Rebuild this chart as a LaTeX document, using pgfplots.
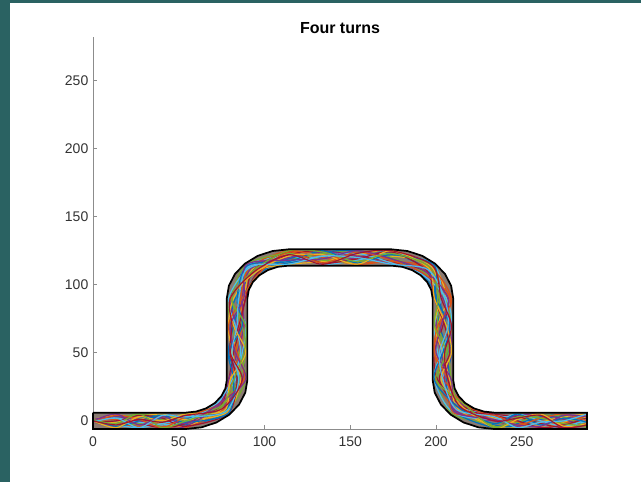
\documentclass[border=0pt]{standalone}
\usepackage{fontspec}
\setmainfont{Liberation Sans}
\usepackage{pgfplots}
\pgfplotsset{compat=1.18}

\definecolor{bgteal}{HTML}{2A6262}
\definecolor{axgray}{HTML}{8C8C8C}
\definecolor{lblgray}{HTML}{333333}
\definecolor{c1}{HTML}{0072BD}
\definecolor{c2}{HTML}{D95319}
\definecolor{c3}{HTML}{EDB120}
\definecolor{c4}{HTML}{7E2F8E}
\definecolor{c5}{HTML}{77AC30}
\definecolor{c6}{HTML}{4DBEEE}
\definecolor{c7}{HTML}{A2142F}
\definecolor{roadmix}{HTML}{8A7A72}

\begin{document}
\begin{tikzpicture}
\fill[bgteal] (0,0) rectangle (480.75pt,361.5pt);
\fill[white] (7.5pt,0) rectangle (480.75pt,359.25pt);
\useasboundingbox (0,0) rectangle (480.75pt,361.5pt);
\begin{axis}[at={(69.75pt,39.75pt)},anchor=south west,
  scale only axis,width=370.5pt,height=294pt,
  xmin=0,xmax=288,ymin=-6,ymax=282,
  axis x line*=bottom,axis y line*=left,
  axis line style={-,axgray,line width=0.6pt},
  xtick={0,50,...,250},ytick={0,50,...,250},
  tick align=inside,major tick length=3pt,
  tick style={axgray,line width=0.6pt},
  /pgf/number format/assume math mode=true,
  tick label style={font=\fontsize{10.5}{12}\selectfont,text=lblgray},
  xticklabel style={yshift=-2.5pt},
  title={Four turns},
  title style={font=\bfseries\fontsize{12}{14}\selectfont,yshift=-7pt},
  clip=false]

% road surface
\addplot[draw=none,fill=roadmix] coordinates {
 (0,6)(54,6)(60.21,6.82)(66,9.22)(70.97,13.03)(74.78,18)(77.18,23.79)(78,30)
 (78,90)(79.23,99.32)(82.82,108)(88.54,115.46)(96,121.18)(104.68,124.77)(114,126)
 (174,126)(183.32,124.77)(192,121.18)(199.46,115.46)(205.18,108)(208.77,99.32)(210,90)
 (210,30)(210.82,23.79)(213.22,18)(217.03,13.03)(222,9.22)(227.79,6.82)(234,6)(288,6)
 (288,-6)(234,-6)(224.68,-4.77)(216,-1.18)(208.54,4.54)(202.82,12)(199.23,20.68)(198,30)
 (198,90)(197.18,96.21)(194.78,102)(190.97,106.97)(186,110.78)(180.21,113.18)(174,114)
 (114,114)(107.79,113.18)(102,110.78)(97.03,106.97)(93.22,102)(90.82,96.21)(90,90)
 (90,30)(88.77,20.68)(85.18,12)(79.46,4.54)(72,-1.18)(63.32,-4.77)(54,-6)(0,-6)(0,6)};

% trajectories
\pgfplotsset{traj/.style={line width=0.9pt,smooth}}
\addplot[traj,c1] coordinates {(0,0)(13.5,3)(27,4)(40.5,1)(54,-3)(78.0,6.0)(86,30)(82,50)(80,70)(83,90)(94.9,109.1)(114,116)(134,120)(154,124)(174,123)(195.2,111.2)(200,90)(202,70)(207,50)(208,30)(212.8,8.8)(234,-3)(247.5,-4)(261,1)(274.5,4)(288,2)};
\addplot[traj,c2] coordinates {(0,0)(13.5,-2)(27,-4)(40.5,-3)(54,1)(72.4,11.6)(81,30)(85,50)(88,70)(86,90)(91.4,112.6)(114,124)(134,122)(154,117)(174,116)(195.9,111.9)(208,90)(207,70)(202,50)(200,30)(212.1,8.1)(234,3)(247.5,4)(261,0)(274.5,-4)(288,-3)};
\addplot[traj,c3] coordinates {(0,1)(13.5,4)(27,2)(40.5,-2)(54,-4)(75.2,8.8)(80,30)(81,50)(85,70)(88,90)(92.8,111.2)(114,123)(134,118)(154,116)(174,121)(198.0,114.0)(206,90)(201,70)(200,50)(204,30)(215.6,11.6)(234,2)(247.5,-2)(261,-4)(274.5,-1)(288,3)};
\addplot[traj,c4] coordinates {(0,-1)(13.5,-4)(27,-1)(40.5,3)(54,4)(74.5,9.5)(87,30)(88,50)(84,70)(80,90)(90.7,113.3)(114,119)(134,116)(154,120)(174,124)(197.3,113.3)(203,90)(200,70)(203,50)(207,30)(215.6,11.6)(234,0)(247.5,-4)(261,-2)(274.5,2)(288,4)};
\addplot[traj,c5] coordinates {(0,0)(13.5,2)(27,5)(40.5,3)(54,0)(77.3,6.7)(89,30)(85,50)(81,70)(79,90)(92.1,111.9)(114,118)(134,123)(154,125)(174,120)(193.1,109.1)(205,90)(209,70)(206,50)(201,30)(209.3,5.3)(234,-2)(247.5,2)(261,5)(274.5,1)(288,-3)};
\addplot[traj,c6] coordinates {(0,0)(13.5,-3)(27,-5)(40.5,-2)(54,2)(71.7,12.3)(83,30)(87,50)(89,70)(84,90)(90.0,114.0)(114,121)(134,115)(154,118)(174,123)(198.7,114.7)(203,90)(199,70)(201,50)(205,30)(214.2,10.2)(234,5)(247.5,1)(261,-3)(274.5,-5)(288,0)};
\addplot[traj,c7] coordinates {(0,1)(13.5,1)(27,-2)(40.5,-5)(54,-2)(73.8,10.2)(79,30)(82,50)(86,70)(89,90)(95.6,108.4)(114,122)(134,125)(154,121)(174,117)(193.8,109.8)(207,90)(204,70)(199,50)(201,30)(214.9,10.9)(234,5)(247.5,3)(261,-2)(274.5,-5)(288,-2)};
\addplot[traj,c1] coordinates {(0,-1)(13.5,-1)(27,2)(40.5,5)(54,2)(76.6,7.4)(84,30)(79,50)(82,70)(87,90)(96.3,107.7)(114,119)(134,124)(154,125)(174,119)(191.7,107.7)(201,90)(206,70)(209,50)(206,30)(210.7,6.7)(234,-5)(247.5,-2)(261,3)(274.5,5)(288,1)};
\addplot[traj,c2] coordinates {(0,0)(13.5,1)(27,0)(40.5,-4)(54,-5)(75.9,8.1)(81,30)(83,50)(87,70)(86,90)(91.4,112.6)(114,125)(134,120)(154,115)(174,117)(196.6,112.6)(209,90)(202,70)(199,50)(205,30)(216.3,12.3)(234,3)(247.5,-1)(261,-5)(274.5,-2)(288,4)};
\addplot[traj,c3] coordinates {(0,0)(13.5,-1)(27,3)(40.5,5)(54,1)(78.0,6.0)(86,30)(81,50)(79,70)(82,90)(94.2,109.8)(114,115)(134,117)(154,122)(174,125)(197.3,113.3)(202,90)(199,70)(204,50)(208,30)(212.8,8.8)(234,-4)(247.5,-5)(261,-1)(274.5,3)(288,5)};
\addplot[traj,c4] coordinates {(0,1)(13.5,3)(27,0)(40.5,-5)(54,-4)(73.1,10.9)(79,30)(84,50)(88,70)(87,90)(92.1,111.9)(114,120)(134,124)(154,121)(174,115)(192.4,108.4)(204,90)(208,70)(209,50)(205,30)(211.4,7.4)(234,0)(247.5,4)(261,5)(274.5,1)(288,-4)};
\addplot[traj,c5] coordinates {(0,-1)(13.5,-3)(27,-2)(40.5,1)(54,5)(73.8,10.2)(85,30)(89,50)(87,70)(81,90)(89.3,114.7)(114,123)(134,118)(154,117)(174,122)(198.0,114.0)(202,90)(201,70)(207,50)(209,30)(214.2,10.2)(234,-4)(247.5,-1)(261,4)(274.5,3)(288,-5)};
\addplot[traj,c6] coordinates {(0,0)(13.5,2)(27,-1)(40.5,-3)(54,0)(71.7,12.3)(81,30)(86,50)(83,70)(79,90)(91.4,112.6)(114,117)(134,121)(154,123)(174,116)(191.7,107.7)(206,90)(209,70)(203,50)(199,30)(210.0,6.0)(234,1)(247.5,5)(261,0)(274.5,-4)(288,1)};
\addplot[traj,c7] coordinates {(0,-1)(13.5,0)(27,4)(40.5,2)(54,-4)(78.7,5.3)(84,30)(80,50)(85,70)(89,90)(93.5,110.5)(114,124)(134,116)(154,119)(174,124)(194.5,110.5)(199,90)(205,70)(208,50)(202,30)(213.5,9.5)(234,4)(247.5,0)(261,-5)(274.5,-3)(288,2)};
\addplot[traj,c1] coordinates {(0,1)(13.5,-4)(27,0)(40.5,4)(54,-1)(78.7,5.3)(82,30)(79,50)(87,70)(84,90)(90.0,114.0)(114,117)(134,125)(154,116)(174,122)(198.7,114.7)(200,90)(208,70)(204,50)(199,30)(213.5,9.5)(234,-2)(247.5,5)(261,-3)(274.5,2)(288,-1)};
\addplot[traj,c2] coordinates {(0,-1)(13.5,4)(27,1)(40.5,-5)(54,3)(72.4,11.6)(88,30)(84,50)(79,70)(87,90)(96.3,107.7)(114,124)(134,116)(154,124)(174,118)(192.4,108.4)(209,90)(201,70)(199,50)(207,30)(210.0,6.0)(234,4)(247.5,-3)(261,2)(274.5,5)(288,0)};
\addplot[traj,c3] coordinates {(0,0)(13.5,-5)(27,3)(40.5,0)(54,5)(76.6,7.4)(80,30)(89,50)(82,70)(80,90)(94.9,109.1)(114,121)(134,122)(154,115)(174,125)(195.9,111.9)(199,90)(206,70)(209,50)(203,30)(214.9,10.9)(234,-5)(247.5,1)(261,5)(274.5,-4)(288,-2)};
\addplot[traj,c4] coordinates {(0,0)(13.5,5)(27,-3)(40.5,3)(54,-2)(72.4,11.6)(89,30)(83,50)(80,70)(88,90)(89.3,114.7)(114,118)(134,119)(154,125)(174,119)(193.8,109.8)(207,90)(203,70)(200,50)(209,30)(210.7,6.7)(234,1)(247.5,-3)(261,-4)(274.5,4)(288,3)};
\addplot[traj,c5] coordinates {(0,1)(13.5,-2)(27,5)(40.5,-5)(54,0)(74.5,9.5)(82,30)(88,50)(89,70)(81,90)(93.5,110.5)(114,125)(134,124)(154,117)(174,123)(196.6,112.6)(201,90)(199,70)(206,50)(200,30)(216.3,12.3)(234,-5)(247.5,3)(261,2)(274.5,-2)(288,-4)};
\addplot[traj,c6] coordinates {(0,-1)(13.5,2)(27,-5)(40.5,4)(54,3)(77.3,6.7)(85,30)(81,50)(84,70)(85,90)(90.7,113.3)(114,115)(134,121)(154,120)(174,115)(195.2,111.2)(205,90)(207,70)(202,50)(204,30)(212.1,8.1)(234,3)(247.5,-5)(261,-1)(274.5,0)(288,5)};
\addplot[traj,c7] coordinates {(0,0)(13.5,-3)(27,1)(40.5,-1)(54,4)(75.2,8.8)(87,30)(80,50)(81,70)(80,90)(94.2,109.8)(114,122)(134,115)(154,123)(174,125)(198.0,114.0)(203,90)(209,70)(205,50)(207,30)(214.2,10.2)(234,0)(247.5,2)(261,4)(274.5,-5)(288,-3)};

% road border
\addplot[black,line width=1.3pt] coordinates {
 (0,6)(54,6)(60.21,6.82)(66,9.22)(70.97,13.03)(74.78,18)(77.18,23.79)(78,30)
 (78,90)(79.23,99.32)(82.82,108)(88.54,115.46)(96,121.18)(104.68,124.77)(114,126)
 (174,126)(183.32,124.77)(192,121.18)(199.46,115.46)(205.18,108)(208.77,99.32)(210,90)
 (210,30)(210.82,23.79)(213.22,18)(217.03,13.03)(222,9.22)(227.79,6.82)(234,6)(288,6)
 (288,-6)(234,-6)(224.68,-4.77)(216,-1.18)(208.54,4.54)(202.82,12)(199.23,20.68)(198,30)
 (198,90)(197.18,96.21)(194.78,102)(190.97,106.97)(186,110.78)(180.21,113.18)(174,114)
 (114,114)(107.79,113.18)(102,110.78)(97.03,106.97)(93.22,102)(90.82,96.21)(90,90)
 (90,30)(88.77,20.68)(85.18,12)(79.46,4.54)(72,-1.18)(63.32,-4.77)(54,-6)(0,-6)(0,6)};
\end{axis}
\end{tikzpicture}
\end{document}
